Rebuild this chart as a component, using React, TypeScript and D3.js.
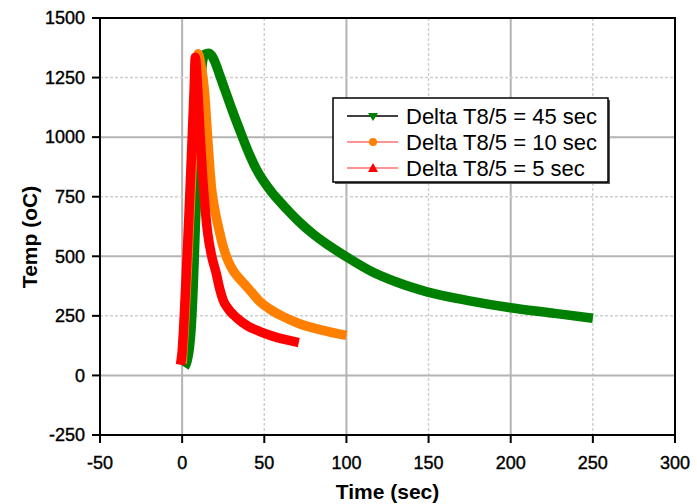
import * as d3 from 'd3';

// Delta T8/5 = 45 sec (green)
const time45 = [1.5, 3, 4.5, 5.5, 7, 8, 9.1, 10.5, 11.5, 12.5, 14, 16, 18, 20, 22.5, 25.6, 30, 34.7, 40.8, 45, 49.9, 55, 59, 65, 71.2, 80, 87, 99, 115.6, 130, 148.5, 175, 199, 225, 250];
const temp45 = [35, 60, 120, 200, 420, 620, 818, 1050, 1230, 1320, 1348, 1352, 1342, 1315, 1268, 1207, 1122, 1036, 930, 868, 812, 765, 733, 688, 645, 592, 556, 502, 435, 393, 352, 313, 285, 262, 240];

// Delta T8/5 = 10 sec (orange)
const time10 = [0, 1.5, 3.5, 5.5, 7.5, 9, 9.7, 11.5, 13.5, 15.5, 17.8, 20, 22.5, 25, 28, 31, 35, 39, 43, 47, 53, 60, 71, 85, 100];
const temp10 = [50, 220, 500, 800, 1100, 1300, 1350, 1300, 1200, 1000, 790, 690, 610, 540, 480, 440, 405, 375, 343, 312, 280, 252, 218, 190, 168];

// Delta T8/5 = 5 sec (red)
const time5 = [-1, 0, 2, 4, 6, 7.3, 8, 9.5, 11, 12.5, 14, 15.5, 18, 20.7, 23, 25, 28, 33, 40, 47, 55, 63, 71];
const temp5 = [45, 100, 350, 650, 980, 1200, 1335, 1200, 1000, 830, 700, 600, 500, 430, 360, 315, 280, 243, 207, 185, 165, 150, 138];

const xTicks = [-50, 0, 50, 100, 150, 200, 250, 300];
const yTicks = [-250, 0, 250, 500, 750, 1000, 1250, 1500];
const legendLabels = ['Delta T8/5 = 45 sec', 'Delta T8/5 = 10 sec', 'Delta T8/5 = 5 sec'];

const W = 697;
const H = 504;
const left = 100, right = 675, top = 18, bottom = 435;

export default function App() {
  const x = d3.scaleLinear().domain([-50, 300]).range([left, right]);
  const y = d3.scaleLinear().domain([-250, 1500]).range([bottom, top]);

  const line = d3
    .line<[number, number]>()
    .x((d) => x(d[0]))
    .y((d) => y(d[1]))
    .curve(d3.curveMonotoneX);

  const series = [
    { t: time45, v: temp45, color: '#008000' },
    { t: time10, v: temp10, color: '#ff8000' },
    { t: time5, v: temp5, color: '#ff0000' },
  ];

  const font = 'Arial, "Liberation Sans", sans-serif';
  const lx = 333, ly = 98, lw = 275, lh = 84;
  const rowY = [116, 142, 168];
  const legendLine = ['#000000', '#ff7070', '#ff7070'];

  return (
    <svg width={W} height={H} style={{ position: 'absolute', left: 0, top: 0 }} fontFamily={font}>
      <rect x={0} y={0} width={W} height={H} fill='#fff' />
      {/* grid */}
      {xTicks.map((t) =>
        t % 100 === 0 ? (
          <line key={'gx' + t} x1={x(t)} x2={x(t)} y1={top} y2={bottom} stroke='#b4b4b4' strokeWidth={2} />
        ) : (
          <line key={'gx' + t} x1={x(t)} x2={x(t)} y1={top} y2={bottom} stroke='#cfcfcf' strokeWidth={1.5} strokeDasharray='3,2' />
        )
      )}
      {yTicks.map((t) =>
        t % 500 === 0 ? (
          <line key={'gy' + t} x1={left} x2={right} y1={y(t)} y2={y(t)} stroke='#b4b4b4' strokeWidth={2} />
        ) : (
          <line key={'gy' + t} x1={left} x2={right} y1={y(t)} y2={y(t)} stroke='#cfcfcf' strokeWidth={1.5} strokeDasharray='3,2' />
        )
      )}
      {/* series */}
      {series.map((s, i) => (
        <path
          key={i}
          d={line(s.t.map((t, j) => [t, s.v[j]] as [number, number])) || ''}
          fill='none'
          stroke={s.color}
          strokeWidth={9.5}
          strokeLinejoin='round'
          strokeLinecap='butt'
        />
      ))}
      {/* frame */}
      <rect x={left} y={top} width={right - left} height={bottom - top} fill='none' stroke='#000' strokeWidth={2} />
      {/* ticks */}
      {yTicks.map((t) => (
        <g key={'ty' + t}>
          <line x1={left - 8} x2={left} y1={y(t)} y2={y(t)} stroke='#000' strokeWidth={2} />
          <text x={left - 15} y={y(t)} dy='0.35em' textAnchor='end' fontSize={18} fill='#000' stroke='#000' strokeWidth={0.4}>
            {t}
          </text>
        </g>
      ))}
      {xTicks.map((t) => (
        <g key={'tx' + t}>
          <line x1={x(t)} x2={x(t)} y1={bottom} y2={bottom + 8} stroke='#000' strokeWidth={2} />
          <text x={x(t)} y={bottom + 34} textAnchor='middle' fontSize={18} fill='#000' stroke='#000' strokeWidth={0.4}>
            {t}
          </text>
        </g>
      ))}
      {/* axis titles */}
      <text x={(left + right) / 2} y={499} textAnchor='middle' fontSize={21} fontWeight='bold'>
        Time (sec)
      </text>
      <text transform={`translate(37,237) rotate(-90)`} textAnchor='middle' fontSize={21} fontWeight='bold'>
        Temp (oC)
      </text>
      {/* legend */}
      <rect x={lx + 2} y={ly + 2} width={lw} height={lh} fill='#555' />
      <rect x={lx} y={ly} width={lw} height={lh} fill='#fff' stroke='#000' strokeWidth={1.5} />
      {legendLabels.map((lab, i) => (
        <g key={lab}>
          <line x1={347} x2={398} y1={rowY[i]} y2={rowY[i]} stroke={legendLine[i]} strokeWidth={1.5} />
          {i === 0 && <path d={`M${368},${rowY[i] - 3} L${378},${rowY[i] - 3} L${373},${rowY[i] + 5} Z`} fill='#008000' />}
          {i === 1 && <circle cx={373} cy={rowY[i]} r={4} fill='#ff8000' />}
          {i === 2 && <path d={`M${368},${rowY[i] + 4} L${378},${rowY[i] + 4} L${373},${rowY[i] - 5} Z`} fill='#ff0000' />}
          <text x={406} y={rowY[i]} dy='0.36em' fontSize={22} fill='#000'>
            {lab}
          </text>
        </g>
      ))}
    </svg>
  );
}
